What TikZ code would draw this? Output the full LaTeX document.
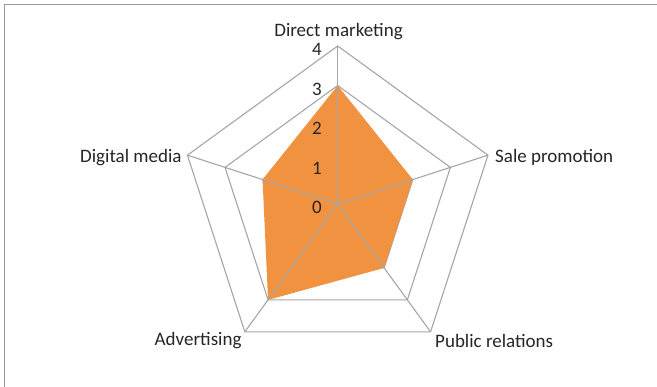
\documentclass[tikz,border=0pt]{standalone}
\usepackage{fontspec}
\setmainfont{Carlito}
\usetikzlibrary{calc}
\definecolor{gridgray}{HTML}{A6A6A6}
\definecolor{framegray}{HTML}{9A9A9A}
\definecolor{fillorange}{HTML}{F0923F}
\definecolor{txt}{HTML}{262626}
\begin{document}
\begin{tikzpicture}[x=1pt,y=-1pt,
  gridline/.style={draw=gridgray,line width=1.1pt},
  axislabel/.style={inner sep=0pt,font=\fontsize{19}{21}\selectfont,text=txt},
  ticklabel/.style={inner sep=0pt,anchor=east,font=\fontsize{19}{21}\selectfont,text=txt}]
\useasboundingbox (0,0) rectangle (657,387);
\fill[white] (0,0) rectangle (657,387);
\draw[framegray,line width=1.4pt] (4.6,390) -- (4.6,4.4) -- (660,4.4);
\coordinate (C) at (337.7,204);
% rings
\foreach \r in {1,2,3,4}{
  \draw[gridline] ($(C)+(-90:\r*39.5)$) -- ($(C)+(-18:\r*39.5)$) -- ($(C)+(54:\r*39.5)$)
     -- ($(C)+(126:\r*39.5)$) -- ($(C)+(-162:\r*39.5)$) -- cycle;
}
% fill
\fill[fillorange] ($(C)+(-90:3*39.5)$) -- ($(C)+(-18:2*39.5)$) -- ($(C)+(54:2*39.5)$)
     -- ($(C)+(126:3*39.5)$) -- ($(C)+(-162:2*39.5)$) -- cycle;
% spokes
\foreach \a/\n in {90/v1,18/v2,-54/v3,-126/v4,162/v5}{
  \coordinate (\n) at ($(C)+(-\a:158)$);
  \draw[gridline] (C) -- (\n);
}
% ticks
\node[ticklabel] (t0) at (322,207.5) {0};
\node[ticklabel] (t1) at (322,168) {1};
\node[ticklabel] (t2) at (322,128.5) {2};
\node[ticklabel] (t3) at (322,89) {3};
\node[ticklabel] (t4) at (322,49.5) {4};
% axis labels
\node[axislabel] (l1) at (338.5,32) {Direct marketing};
\node[axislabel,anchor=west] (l2) at (495,157.5) {Sale promotion};
\node[axislabel,anchor=west] (l3) at (435,340.5) {Public relations};
\node[axislabel,anchor=east] (l4) at (241.7,340.5) {Advertising};
\node[axislabel,anchor=east] (l5) at (181.7,157.5) {Digital media};
\end{tikzpicture}
\end{document}
